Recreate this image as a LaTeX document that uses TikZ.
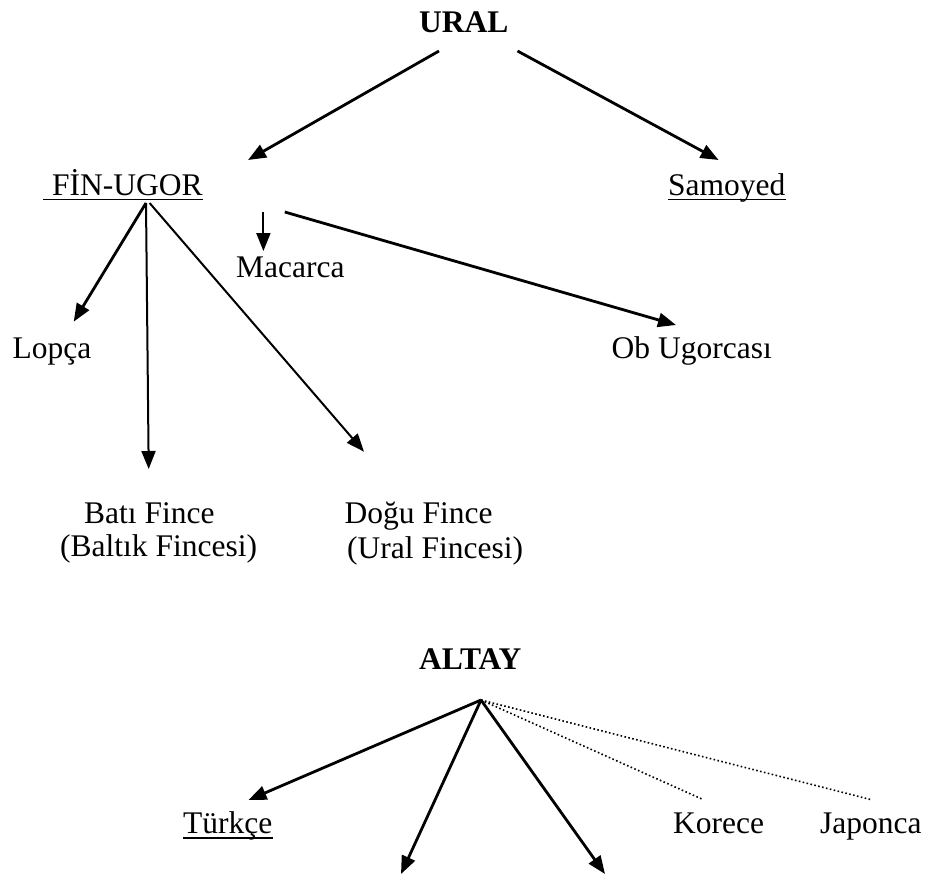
\documentclass[tikz,border=0pt]{standalone}
\usepackage{fontspec}
\setmainfont{Liberation Serif}
\usetikzlibrary{arrows.meta}
\tikzset{
  lbl/.style={inner sep=0pt, anchor=base west, font=\fontsize{31.5}{33}\selectfont},
  head/.style={lbl, font=\fontsize{31.5}{33}\selectfont\bfseries},
  tip/.style={-{Triangle[length=18pt,width=14pt]}},
  arr/.style={tip, line width=2.8pt},
  thin arr/.style={tip, line width=2pt},
  dotline/.style={line width=1.6pt, dash pattern=on 1.6pt off 2.4pt},
  uline/.style={line width=1.8pt},
}
\begin{document}
\begin{tikzpicture}[x=1pt,y=-1pt]
\useasboundingbox (0,0) rectangle (931,876);

% ---- Ural family ----
\node[head] (ural) at (419,32) {URAL};
\node[lbl] (fin) at (43,195) {\hspace{9pt}FİN-UGOR\hspace{26pt}};
\node[lbl] (samoyed) at (668,195) {Samoyed};
\node[lbl] (macarca) at (236,277) {Macarca};
\node[lbl] (lopca) at (12.5,358) {Lopça};
\node[lbl] (ob) at (611.5,358) {Ob Ugorcası};
\node[lbl] (bati) at (84,523) {Batı Fince};
\node[lbl] (batiB) at (60,556) {(Baltık Fincesi)};
\node[lbl] (dogu) at (344.5,523) {Doğu Fince};
\node[lbl] (doguB) at (347,558) {(Ural Fincesi)};

% underlines
\draw[uline] ([yshift=-4.5pt]fin.base west) -- ([yshift=-4.5pt]fin.base east);
\draw[uline] ([yshift=-4.5pt]samoyed.base west) -- ([yshift=-4.5pt]samoyed.base east);

\coordinate (uralL) at (439,51);
\coordinate (uralR) at (517.5,51);
\coordinate (finT) at (248,160);
\coordinate (samT) at (718.6,160);
\coordinate (finApex) at (146,203);
\coordinate (finApexB) at (149.6,203);
\coordinate (lopcaT) at (73.7,321.7);
\coordinate (batiT) at (148.7,469);
\coordinate (doguT) at (364,451.7);
\coordinate (macS) at (263.4,212);
\coordinate (macT) at (263.4,251);
\coordinate (obS) at (284.8,212);
\coordinate (obT) at (676,325);

\draw[arr] (uralL) -- (finT);
\draw[arr] (uralR) -- (samT);
\draw[arr] (finApex) -- (lopcaT);
\draw[thin arr] (finApex) -- (batiT);
\draw[thin arr] (finApexB) -- (doguT);
\draw[thin arr] (macS) -- (macT);
\draw[arr] (obS) -- (obT);

% ---- Altay family ----
\node[head] (altay) at (419,669) {ALTAY};
\node[lbl] (turkce) at (183,833) {Türkçe};
\node[lbl] (korece) at (673,833) {Korece};
\node[lbl] (japonca) at (820,833) {Japonca};

\draw[uline] ([yshift=-5pt]turkce.base west) -- ([yshift=-5pt]turkce.base east);

\coordinate (altApex) at (481,700);
\coordinate (turkT) at (248.5,800);
\coordinate (leftT) at (401,874);
\coordinate (rightT) at (605,874);
\coordinate (korE) at (703,799.5);
\coordinate (japE) at (870.5,799.5);

\draw[arr] (altApex) -- (turkT);
\draw[arr] (altApex) -- (leftT);
\draw[arr] (altApex) -- (rightT);
\draw[dotline] (altApex) -- (korE);
\draw[dotline] (altApex) -- (japE);
\end{tikzpicture}
\end{document}
